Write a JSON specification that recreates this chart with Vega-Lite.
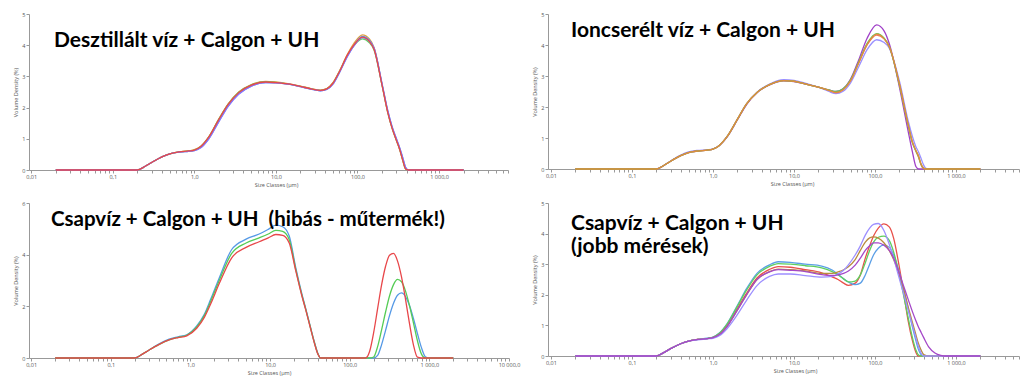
{
  "$schema": "https://vega.github.io/schema/vega-lite/v6.json",
  "background": "white",
  "padding": {"left": 13, "top": 12, "right": 0, "bottom": 0},
  "config": {
    "view": {"stroke": null},
    "axis": {"labelFont": "Open Sans", "labelFontSize": 5.5, "labelColor": "#555", "titleFont": "Open Sans", "titleFontSize": 5.5, "titleFontWeight": "normal", "titleColor": "#555", "domainColor": "#999", "tickColor": "#999", "tickSize": 3, "grid": false, "labelPadding": 1, "titlePadding": 3, "labelFlush": false, "labelOverlap": false},
    "title": {"font": "Lato", "fontWeight": "bold", "fontSize": 21, "color": "#000", "anchor": "start", "frame": "group", "baseline": "alphabetic"}
  },
  "datasets": {
    "d1": [
      {"x":0.02,"o":0,"g":0,"b":0,"v":0,"r":0},
      {"x":0.2,"o":0,"g":0,"b":0,"v":0,"r":0},
      {"x":0.25,"o":0.12,"g":0.12,"b":0.12,"v":0.12,"r":0.12},
      {"x":0.3,"o":0.24,"g":0.24,"b":0.24,"v":0.24,"r":0.24},
      {"x":0.4,"o":0.42,"g":0.42,"b":0.42,"v":0.42,"r":0.42},
      {"x":0.5,"o":0.52,"g":0.52,"b":0.52,"v":0.52,"r":0.52},
      {"x":0.65,"o":0.58,"g":0.58,"b":0.57,"v":0.57,"r":0.58},
      {"x":0.85,"o":0.61,"g":0.61,"b":0.6,"v":0.6,"r":0.61},
      {"x":1.0,"o":0.65,"g":0.64,"b":0.62,"v":0.62,"r":0.64},
      {"x":1.2,"o":0.76,"g":0.75,"b":0.72,"v":0.71,"r":0.75},
      {"x":1.5,"o":1.06,"g":1.05,"b":1.0,"v":0.99,"r":1.05},
      {"x":2.0,"o":1.64,"g":1.63,"b":1.56,"v":1.55,"r":1.62},
      {"x":2.6,"o":2.12,"g":2.11,"b":2.05,"v":2.04,"r":2.1},
      {"x":3.5,"o":2.5,"g":2.49,"b":2.44,"v":2.43,"r":2.48},
      {"x":5,"o":2.74,"g":2.73,"b":2.69,"v":2.69,"r":2.72},
      {"x":7.5,"o":2.84,"g":2.83,"b":2.8,"v":2.8,"r":2.82},
      {"x":10,"o":2.82,"g":2.81,"b":2.79,"v":2.79,"r":2.8},
      {"x":14,"o":2.77,"g":2.76,"b":2.75,"v":2.75,"r":2.76},
      {"x":20,"o":2.69,"g":2.68,"b":2.67,"v":2.67,"r":2.68},
      {"x":27,"o":2.61,"g":2.6,"b":2.59,"v":2.59,"r":2.6},
      {"x":35,"o":2.56,"g":2.55,"b":2.54,"v":2.54,"r":2.55},
      {"x":42,"o":2.61,"g":2.6,"b":2.58,"v":2.58,"r":2.6},
      {"x":50,"o":2.8,"g":2.78,"b":2.75,"v":2.75,"r":2.78},
      {"x":60,"o":3.17,"g":3.15,"b":3.12,"v":3.12,"r":3.15},
      {"x":75,"o":3.7,"g":3.67,"b":3.64,"v":3.63,"r":3.68},
      {"x":90,"o":4.05,"g":3.98,"b":3.98,"v":3.97,"r":4.0},
      {"x":115,"o":4.33,"g":4.2,"b":4.28,"v":4.24,"r":4.26},
      {"x":140,"o":4.2,"g":4.08,"b":4.16,"v":4.13,"r":4.12},
      {"x":160,"o":3.92,"g":3.84,"b":3.9,"v":3.9,"r":3.86},
      {"x":200,"o":2.73,"g":2.72,"b":2.76,"v":2.77,"r":2.72},
      {"x":235,"o":1.85,"g":1.85,"b":1.9,"v":1.9,"r":1.85},
      {"x":265,"o":1.35,"g":1.35,"b":1.4,"v":1.4,"r":1.35},
      {"x":300,"o":0.95,"g":0.95,"b":1.0,"v":1.0,"r":0.95},
      {"x":330,"o":0.65,"g":0.65,"b":0.7,"v":0.7,"r":0.65},
      {"x":360,"o":0.3,"g":0.3,"b":0.38,"v":0.38,"r":0.3},
      {"x":390,"o":0.03,"g":0.03,"b":0.08,"v":0.08,"r":0.03},
      {"x":420,"o":0,"g":0,"b":0,"v":0,"r":0},
      {"x":2000,"o":0,"g":0,"b":0,"v":0,"r":0}
    ],
    "d2": [
      {"x":0.02,"lp":0,"r":0,"g":0,"o":0,"dp":0},
      {"x":0.2,"lp":0,"r":0,"g":0,"o":0,"dp":0},
      {"x":0.25,"lp":0.12,"r":0.12,"g":0.12,"o":0.12,"dp":0.12},
      {"x":0.3,"lp":0.26,"r":0.25,"g":0.25,"o":0.25,"dp":0.25},
      {"x":0.4,"lp":0.45,"r":0.43,"g":0.43,"o":0.43,"dp":0.43},
      {"x":0.5,"lp":0.55,"r":0.53,"g":0.53,"o":0.53,"dp":0.53},
      {"x":0.65,"lp":0.6,"r":0.58,"g":0.58,"o":0.58,"dp":0.58},
      {"x":0.85,"lp":0.62,"r":0.61,"g":0.61,"o":0.61,"dp":0.61},
      {"x":1.0,"lp":0.65,"r":0.64,"g":0.64,"o":0.64,"dp":0.64},
      {"x":1.2,"lp":0.76,"r":0.76,"g":0.76,"o":0.76,"dp":0.76},
      {"x":1.5,"lp":1.05,"r":1.05,"g":1.05,"o":1.05,"dp":1.04},
      {"x":2.0,"lp":1.6,"r":1.6,"g":1.6,"o":1.6,"dp":1.58},
      {"x":2.6,"lp":2.1,"r":2.1,"g":2.1,"o":2.1,"dp":2.08},
      {"x":3.5,"lp":2.48,"r":2.47,"g":2.47,"o":2.47,"dp":2.46},
      {"x":5,"lp":2.74,"r":2.72,"g":2.72,"o":2.72,"dp":2.71},
      {"x":7.5,"lp":2.88,"r":2.85,"g":2.85,"o":2.85,"dp":2.84},
      {"x":10,"lp":2.86,"r":2.83,"g":2.83,"o":2.83,"dp":2.82},
      {"x":14,"lp":2.76,"r":2.74,"g":2.74,"o":2.74,"dp":2.74},
      {"x":20,"lp":2.64,"r":2.64,"g":2.64,"o":2.64,"dp":2.64},
      {"x":27,"lp":2.5,"r":2.54,"g":2.55,"o":2.54,"dp":2.55},
      {"x":33,"lp":2.43,"r":2.46,"g":2.5,"o":2.47,"dp":2.5},
      {"x":40,"lp":2.5,"r":2.55,"g":2.58,"o":2.55,"dp":2.58},
      {"x":50,"lp":2.78,"r":2.85,"g":2.88,"o":2.85,"dp":2.9},
      {"x":63,"lp":3.3,"r":3.42,"g":3.45,"o":3.43,"dp":3.52},
      {"x":80,"lp":3.85,"r":4.0,"g":4.05,"o":4.02,"dp":4.22},
      {"x":105,"lp":4.17,"r":4.32,"g":4.37,"o":4.35,"dp":4.65},
      {"x":130,"lp":4.08,"r":4.2,"g":4.22,"o":4.2,"dp":4.45},
      {"x":150,"lp":3.9,"r":3.95,"g":3.95,"o":3.95,"dp":4.05},
      {"x":200,"lp":2.85,"r":2.75,"g":2.72,"o":2.75,"dp":2.65},
      {"x":260,"lp":1.5,"r":1.35,"g":1.35,"o":1.38,"dp":1.15},
      {"x":290,"lp":1.05,"r":0.85,"g":0.85,"o":0.88,"dp":0.55},
      {"x":320,"lp":0.72,"r":0.58,"g":0.58,"o":0.6,"dp":0.08},
      {"x":345,"lp":0.55,"r":0.38,"g":0.4,"o":0.42,"dp":0},
      {"x":370,"lp":0.35,"r":0.14,"g":0.15,"o":0.17,"dp":0},
      {"x":395,"lp":0.15,"r":0.02,"g":0.03,"o":0.04,"dp":0},
      {"x":420,"lp":0.03,"r":0,"g":0,"o":0,"dp":0},
      {"x":450,"lp":0,"r":0,"g":0,"o":0,"dp":0},
      {"x":2000,"lp":0,"r":0,"g":0,"o":0,"dp":0}
    ],
    "d3": [
      {"x":0.02,"b":0,"g":0,"r":0},
      {"x":0.2,"b":0,"g":0,"r":0},
      {"x":0.25,"b":0.15,"g":0.15,"r":0.15},
      {"x":0.3,"b":0.3,"g":0.3,"r":0.3},
      {"x":0.4,"b":0.54,"g":0.52,"r":0.52},
      {"x":0.54,"b":0.73,"g":0.7,"r":0.7},
      {"x":0.7,"b":0.82,"g":0.8,"r":0.79},
      {"x":0.9,"b":0.9,"g":0.88,"r":0.86},
      {"x":1.2,"b":1.24,"g":1.2,"r":1.15},
      {"x":1.5,"b":1.7,"g":1.65,"r":1.58},
      {"x":1.8,"b":2.28,"g":2.2,"r":2.1},
      {"x":2.3,"b":3.1,"g":3.0,"r":2.88},
      {"x":3.3,"b":4.2,"g":4.05,"r":3.88},
      {"x":5,"b":4.6,"g":4.45,"r":4.28},
      {"x":7.3,"b":4.8,"g":4.65,"r":4.5},
      {"x":9.5,"b":4.98,"g":4.8,"r":4.65},
      {"x":11.8,"b":5.14,"g":4.94,"r":4.78},
      {"x":14.4,"b":5.08,"g":4.9,"r":4.75},
      {"x":17.4,"b":4.72,"g":4.58,"r":4.45},
      {"x":21,"b":3.5,"g":3.43,"r":3.38},
      {"x":25,"b":2.5,"g":2.45,"r":2.42},
      {"x":28,"b":1.92,"g":1.89,"r":1.87},
      {"x":32,"b":1.22,"g":1.2,"r":1.18},
      {"x":36,"b":0.62,"g":0.6,"r":0.58},
      {"x":40,"b":0.16,"g":0.15,"r":0.14},
      {"x":43,"b":0,"g":0,"r":0},
      {"x":126,"b":0,"g":0,"r":0},
      {"x":158,"b":0,"g":0,"r":0},
      {"x":178,"b":0,"g":0,"r":0.26},
      {"x":200,"b":0,"g":0.04,"r":0.99},
      {"x":224,"b":0.1,"g":0.44,"r":1.91},
      {"x":251,"b":0.51,"g":1.08,"r":2.82},
      {"x":282,"b":1.07,"g":1.78,"r":3.55},
      {"x":316,"b":1.64,"g":2.4,"r":3.98},
      {"x":355,"b":2.12,"g":2.84,"r":4.05},
      {"x":398,"b":2.43,"g":3.04,"r":3.76},
      {"x":447,"b":2.52,"g":2.95,"r":3.14},
      {"x":501,"b":2.38,"g":2.6,"r":2.29},
      {"x":562,"b":2.04,"g":2.04,"r":1.35},
      {"x":631,"b":1.53,"g":1.36,"r":0.51},
      {"x":708,"b":0.95,"g":0.67,"r":0.03},
      {"x":794,"b":0.41,"g":0.16,"r":0},
      {"x":891,"b":0.05,"g":0,"r":0},
      {"x":1000,"b":0,"g":0,"r":0},
      {"x":2000,"b":0,"g":0,"r":0}
    ],
    "d4": [
      {"x":0.02,"b":0,"g":0,"lp":0,"o":0,"dp":0,"r":0},
      {"x":0.2,"b":0,"g":0,"lp":0,"o":0,"dp":0,"r":0},
      {"x":0.25,"b":0.12,"g":0.12,"lp":0.12,"o":0.12,"dp":0.12,"r":0.12},
      {"x":0.3,"b":0.24,"g":0.24,"lp":0.24,"o":0.24,"dp":0.24,"r":0.24},
      {"x":0.4,"b":0.4,"g":0.4,"lp":0.4,"o":0.4,"dp":0.4,"r":0.4},
      {"x":0.5,"b":0.49,"g":0.49,"lp":0.49,"o":0.49,"dp":0.49,"r":0.49},
      {"x":0.65,"b":0.54,"g":0.54,"lp":0.53,"o":0.54,"dp":0.54,"r":0.54},
      {"x":0.85,"b":0.58,"g":0.57,"lp":0.56,"o":0.57,"dp":0.57,"r":0.57},
      {"x":1.0,"b":0.62,"g":0.61,"lp":0.58,"o":0.6,"dp":0.6,"r":0.61},
      {"x":1.2,"b":0.75,"g":0.74,"lp":0.66,"o":0.7,"dp":0.7,"r":0.72},
      {"x":1.5,"b":1.06,"g":1.05,"lp":0.9,"o":0.98,"dp":0.97,"r":1.0},
      {"x":2.0,"b":1.65,"g":1.62,"lp":1.35,"o":1.5,"dp":1.5,"r":1.55},
      {"x":2.6,"b":2.2,"g":2.15,"lp":1.82,"o":2.0,"dp":2.0,"r":2.05},
      {"x":3.5,"b":2.7,"g":2.65,"lp":2.3,"o":2.5,"dp":2.5,"r":2.55},
      {"x":5,"b":2.98,"g":2.93,"lp":2.6,"o":2.76,"dp":2.75,"r":2.83},
      {"x":6.4,"b":3.08,"g":3.02,"lp":2.68,"o":2.84,"dp":2.82,"r":2.92},
      {"x":9,"b":3.06,"g":3.0,"lp":2.68,"o":2.82,"dp":2.8,"r":2.9},
      {"x":13.8,"b":3.0,"g":2.95,"lp":2.63,"o":2.78,"dp":2.76,"r":2.82},
      {"x":22,"b":2.94,"g":2.88,"lp":2.58,"o":2.7,"dp":2.66,"r":2.72},
      {"x":30,"b":2.8,"g":2.75,"lp":2.6,"o":2.7,"dp":2.63,"r":2.58},
      {"x":35,"b":2.67,"g":2.65,"lp":2.68,"o":2.75,"dp":2.65,"r":2.5},
      {"x":41,"b":2.52,"g":2.52,"lp":2.8,"o":2.82,"dp":2.7,"r":2.38},
      {"x":47,"b":2.42,"g":2.42,"lp":2.98,"o":2.92,"dp":2.78,"r":2.31},
      {"x":57,"b":2.33,"g":2.45,"lp":3.3,"o":3.15,"dp":2.97,"r":2.38},
      {"x":66,"b":2.38,"g":2.65,"lp":3.6,"o":3.45,"dp":3.2,"r":2.65},
      {"x":76,"b":2.65,"g":3.05,"lp":3.95,"o":3.72,"dp":3.45,"r":3.2},
      {"x":86,"b":3.0,"g":3.45,"lp":4.18,"o":3.86,"dp":3.6,"r":3.6},
      {"x":96,"b":3.3,"g":3.72,"lp":4.3,"o":3.89,"dp":3.7,"r":3.92},
      {"x":110,"b":3.52,"g":3.88,"lp":4.33,"o":3.85,"dp":3.7,"r":4.18},
      {"x":129,"b":3.63,"g":3.92,"lp":4.1,"o":3.7,"dp":3.62,"r":4.32},
      {"x":150,"b":3.55,"g":3.78,"lp":3.65,"o":3.45,"dp":3.45,"r":4.22},
      {"x":170,"b":3.3,"g":3.4,"lp":3.2,"o":3.15,"dp":3.2,"r":3.85},
      {"x":194,"b":2.85,"g":2.8,"lp":2.65,"o":2.75,"dp":2.8,"r":3.1},
      {"x":225,"b":2.2,"g":2.0,"lp":2.05,"o":2.2,"dp":2.3,"r":2.1},
      {"x":257,"b":1.55,"g":1.25,"lp":1.5,"o":1.6,"dp":1.85,"r":1.15},
      {"x":290,"b":0.95,"g":0.6,"lp":1.0,"o":1.1,"dp":1.45,"r":0.5},
      {"x":320,"b":0.5,"g":0.2,"lp":0.6,"o":0.7,"dp":1.15,"r":0.12},
      {"x":340,"b":0.25,"g":0.05,"lp":0.35,"o":0.45,"dp":0.98,"r":0},
      {"x":370,"b":0.05,"g":0,"lp":0.1,"o":0.2,"dp":0.78,"r":0},
      {"x":400,"b":0,"g":0,"lp":0,"o":0.05,"dp":0.6,"r":0},
      {"x":460,"b":0,"g":0,"lp":0,"o":0,"dp":0.3,"r":0},
      {"x":550,"b":0,"g":0,"lp":0,"o":0,"dp":0.1,"r":0},
      {"x":650,"b":0,"g":0,"lp":0,"o":0,"dp":0.02,"r":0},
      {"x":730,"b":0,"g":0,"lp":0,"o":0,"dp":0,"r":0},
      {"x":2000,"b":0,"g":0,"lp":0,"o":0,"dp":0,"r":0}
    ]
  },
  "columns": 2,
  "bounds": "flush",
  "spacing": {"row": 33, "column": 39},
  "resolve": {"scale": {"color": "independent", "x": "independent", "y": "independent"}},
  "concat": [
    {
      "width": 479, "height": 156,
      "data": {"name": "d1"},
      "transform": [{"fold": ["o", "g", "b", "v", "r"], "as": ["s", "y"]}],
      "title": {"text": "Desztillált víz + Calgon + UH", "dx": 25, "offset": -39},
      "mark": {"type": "line", "interpolate": "monotone", "strokeWidth": 1.3},
      "encoding": {
        "x": {"field": "x", "type": "quantitative", "scale": {"type": "log", "domain": [0.0094, 7000], "nice": false},
          "axis": {"title": "Size Classes (µm)", "titleX": 247, "values": [0.01,0.02,0.03,0.04,0.05,0.06,0.07,0.08,0.09,0.1,0.2,0.3,0.4,0.5,0.6,0.7,0.8,0.9,1,2,3,4,5,6,7,8,9,10,20,30,40,50,60,70,80,90,100,200,300,400,500,600,700,800,900,1000,2000,3000,4000,5000,6000,7000],
            "labelExpr": "datum.value == 0.01 ? '0,01' : datum.value == 0.1 ? '0,1' : datum.value == 1 ? '1,0' : datum.value == 10 ? '10,0' : datum.value == 100 ? '100,0' : datum.value == 1000 ? '1 000,0' : datum.value == 10000 ? '10 000,0' : ''"}},
        "y": {"field": "y", "type": "quantitative", "scale": {"domain": [0, 5], "nice": false}, "axis": {"title": "Volume Density (%)", "values": [0,1,2,3,4,5]}},
        "color": {"field": "s", "type": "nominal", "legend": null, "scale": {"domain": ["o", "g", "b", "v", "r"], "range": ["#e0a040", "#66cc66", "#5599ee", "#8877ff", "#e8474a"]}}
      }
    },
    {
      "width": 471, "height": 155,
      "data": {"name": "d2"},
      "transform": [{"fold": ["lp", "dp", "r", "g", "o"], "as": ["s", "y"]}],
      "title": {"text": "Ioncserélt víz + Calgon + UH", "dx": 23, "offset": -29},
      "mark": {"type": "line", "interpolate": "monotone", "strokeWidth": 1.3},
      "encoding": {
        "x": {"field": "x", "type": "quantitative", "scale": {"type": "log", "domain": [0.0092, 6000], "nice": false},
          "axis": {"title": "Size Classes (µm)", "titleX": 244, "values": [0.01,0.02,0.03,0.04,0.05,0.06,0.07,0.08,0.09,0.1,0.2,0.3,0.4,0.5,0.6,0.7,0.8,0.9,1,2,3,4,5,6,7,8,9,10,20,30,40,50,60,70,80,90,100,200,300,400,500,600,700,800,900,1000,2000,3000,4000,5000,6000],
            "labelExpr": "datum.value == 0.01 ? '0,01' : datum.value == 0.1 ? '0,1' : datum.value == 1 ? '1,0' : datum.value == 10 ? '10,0' : datum.value == 100 ? '100,0' : datum.value == 1000 ? '1 000,0' : datum.value == 10000 ? '10 000,0' : ''"}},
        "y": {"field": "y", "type": "quantitative", "scale": {"domain": [0, 5], "nice": false}, "axis": {"title": "Volume Density (%)", "values": [0,1,2,3,4,5]}},
        "color": {"field": "s", "type": "nominal", "legend": null, "scale": {"domain": ["lp", "dp", "r", "g", "o"], "range": ["#9a90ff", "#a040c8", "#f07860", "#5cc85c", "#e08c3c"]}}
      }
    },
    {
      "width": 480, "height": 155,
      "data": {"name": "d3"},
      "transform": [{"fold": ["b", "g", "r"], "as": ["s", "y"]}],
      "title": {"text": "Csapvíz + Calgon + UH \u00a0(hibás - műtermék!)", "dx": 22, "offset": -29, "fontSize": 20.5},
      "mark": {"type": "line", "interpolate": "monotone", "strokeWidth": 1.3},
      "encoding": {
        "x": {"field": "x", "type": "quantitative", "scale": {"type": "log", "domain": [0.0094, 10000], "nice": false},
          "axis": {"title": "Size Classes (µm)", "values": [0.01,0.02,0.03,0.04,0.05,0.06,0.07,0.08,0.09,0.1,0.2,0.3,0.4,0.5,0.6,0.7,0.8,0.9,1,2,3,4,5,6,7,8,9,10,20,30,40,50,60,70,80,90,100,200,300,400,500,600,700,800,900,1000,2000,3000,4000,5000,6000,7000,8000,9000,10000],
            "labelExpr": "datum.value == 0.01 ? '0,01' : datum.value == 0.1 ? '0,1' : datum.value == 1 ? '1,0' : datum.value == 10 ? '10,0' : datum.value == 100 ? '100,0' : datum.value == 1000 ? '1 000,0' : datum.value == 10000 ? '10 000,0' : ''"}},
        "y": {"field": "y", "type": "quantitative", "scale": {"domain": [0, 6], "nice": false}, "axis": {"title": "Volume Density (%)", "values": [0,2,4,6]}},
        "color": {"field": "s", "type": "nominal", "legend": null, "scale": {"domain": ["b", "g", "r"], "range": ["#5599e6", "#55cc55", "#e8474a"]}}
      }
    },
    {
      "width": 471, "height": 153,
      "data": {"name": "d4"},
      "transform": [{"fold": ["r", "b", "g", "o", "lp", "dp"], "as": ["s", "y"]}],
      "title": {"text": ["Csapvíz + Calgon + UH", "(jobb mérések)"], "dx": 23, "offset": -56, "lineHeight": 23},
      "mark": {"type": "line", "interpolate": "monotone", "strokeWidth": 1.3},
      "encoding": {
        "x": {"field": "x", "type": "quantitative", "scale": {"type": "log", "domain": [0.0092, 6000], "nice": false},
          "axis": {"title": "Size Classes (µm)", "titleX": 247, "values": [0.01,0.02,0.03,0.04,0.05,0.06,0.07,0.08,0.09,0.1,0.2,0.3,0.4,0.5,0.6,0.7,0.8,0.9,1,2,3,4,5,6,7,8,9,10,20,30,40,50,60,70,80,90,100,200,300,400,500,600,700,800,900,1000,2000,3000,4000,5000,6000],
            "labelExpr": "datum.value == 0.01 ? '0,01' : datum.value == 0.1 ? '0,1' : datum.value == 1 ? '1,0' : datum.value == 10 ? '10,0' : datum.value == 100 ? '100,0' : datum.value == 1000 ? '1 000,0' : datum.value == 10000 ? '10 000,0' : ''"}},
        "y": {"field": "y", "type": "quantitative", "scale": {"domain": [0, 5], "nice": false}, "axis": {"title": "Volume Density (%)", "values": [0,1,2,3,4,5]}},
        "color": {"field": "s", "type": "nominal", "legend": null, "scale": {"domain": ["r", "b", "g", "o", "lp", "dp"], "range": ["#e8504a", "#5b9fe6", "#5fcf5f", "#b98a3e", "#9d8fff", "#a548c8"]}}
      }
    }
  ]
}
